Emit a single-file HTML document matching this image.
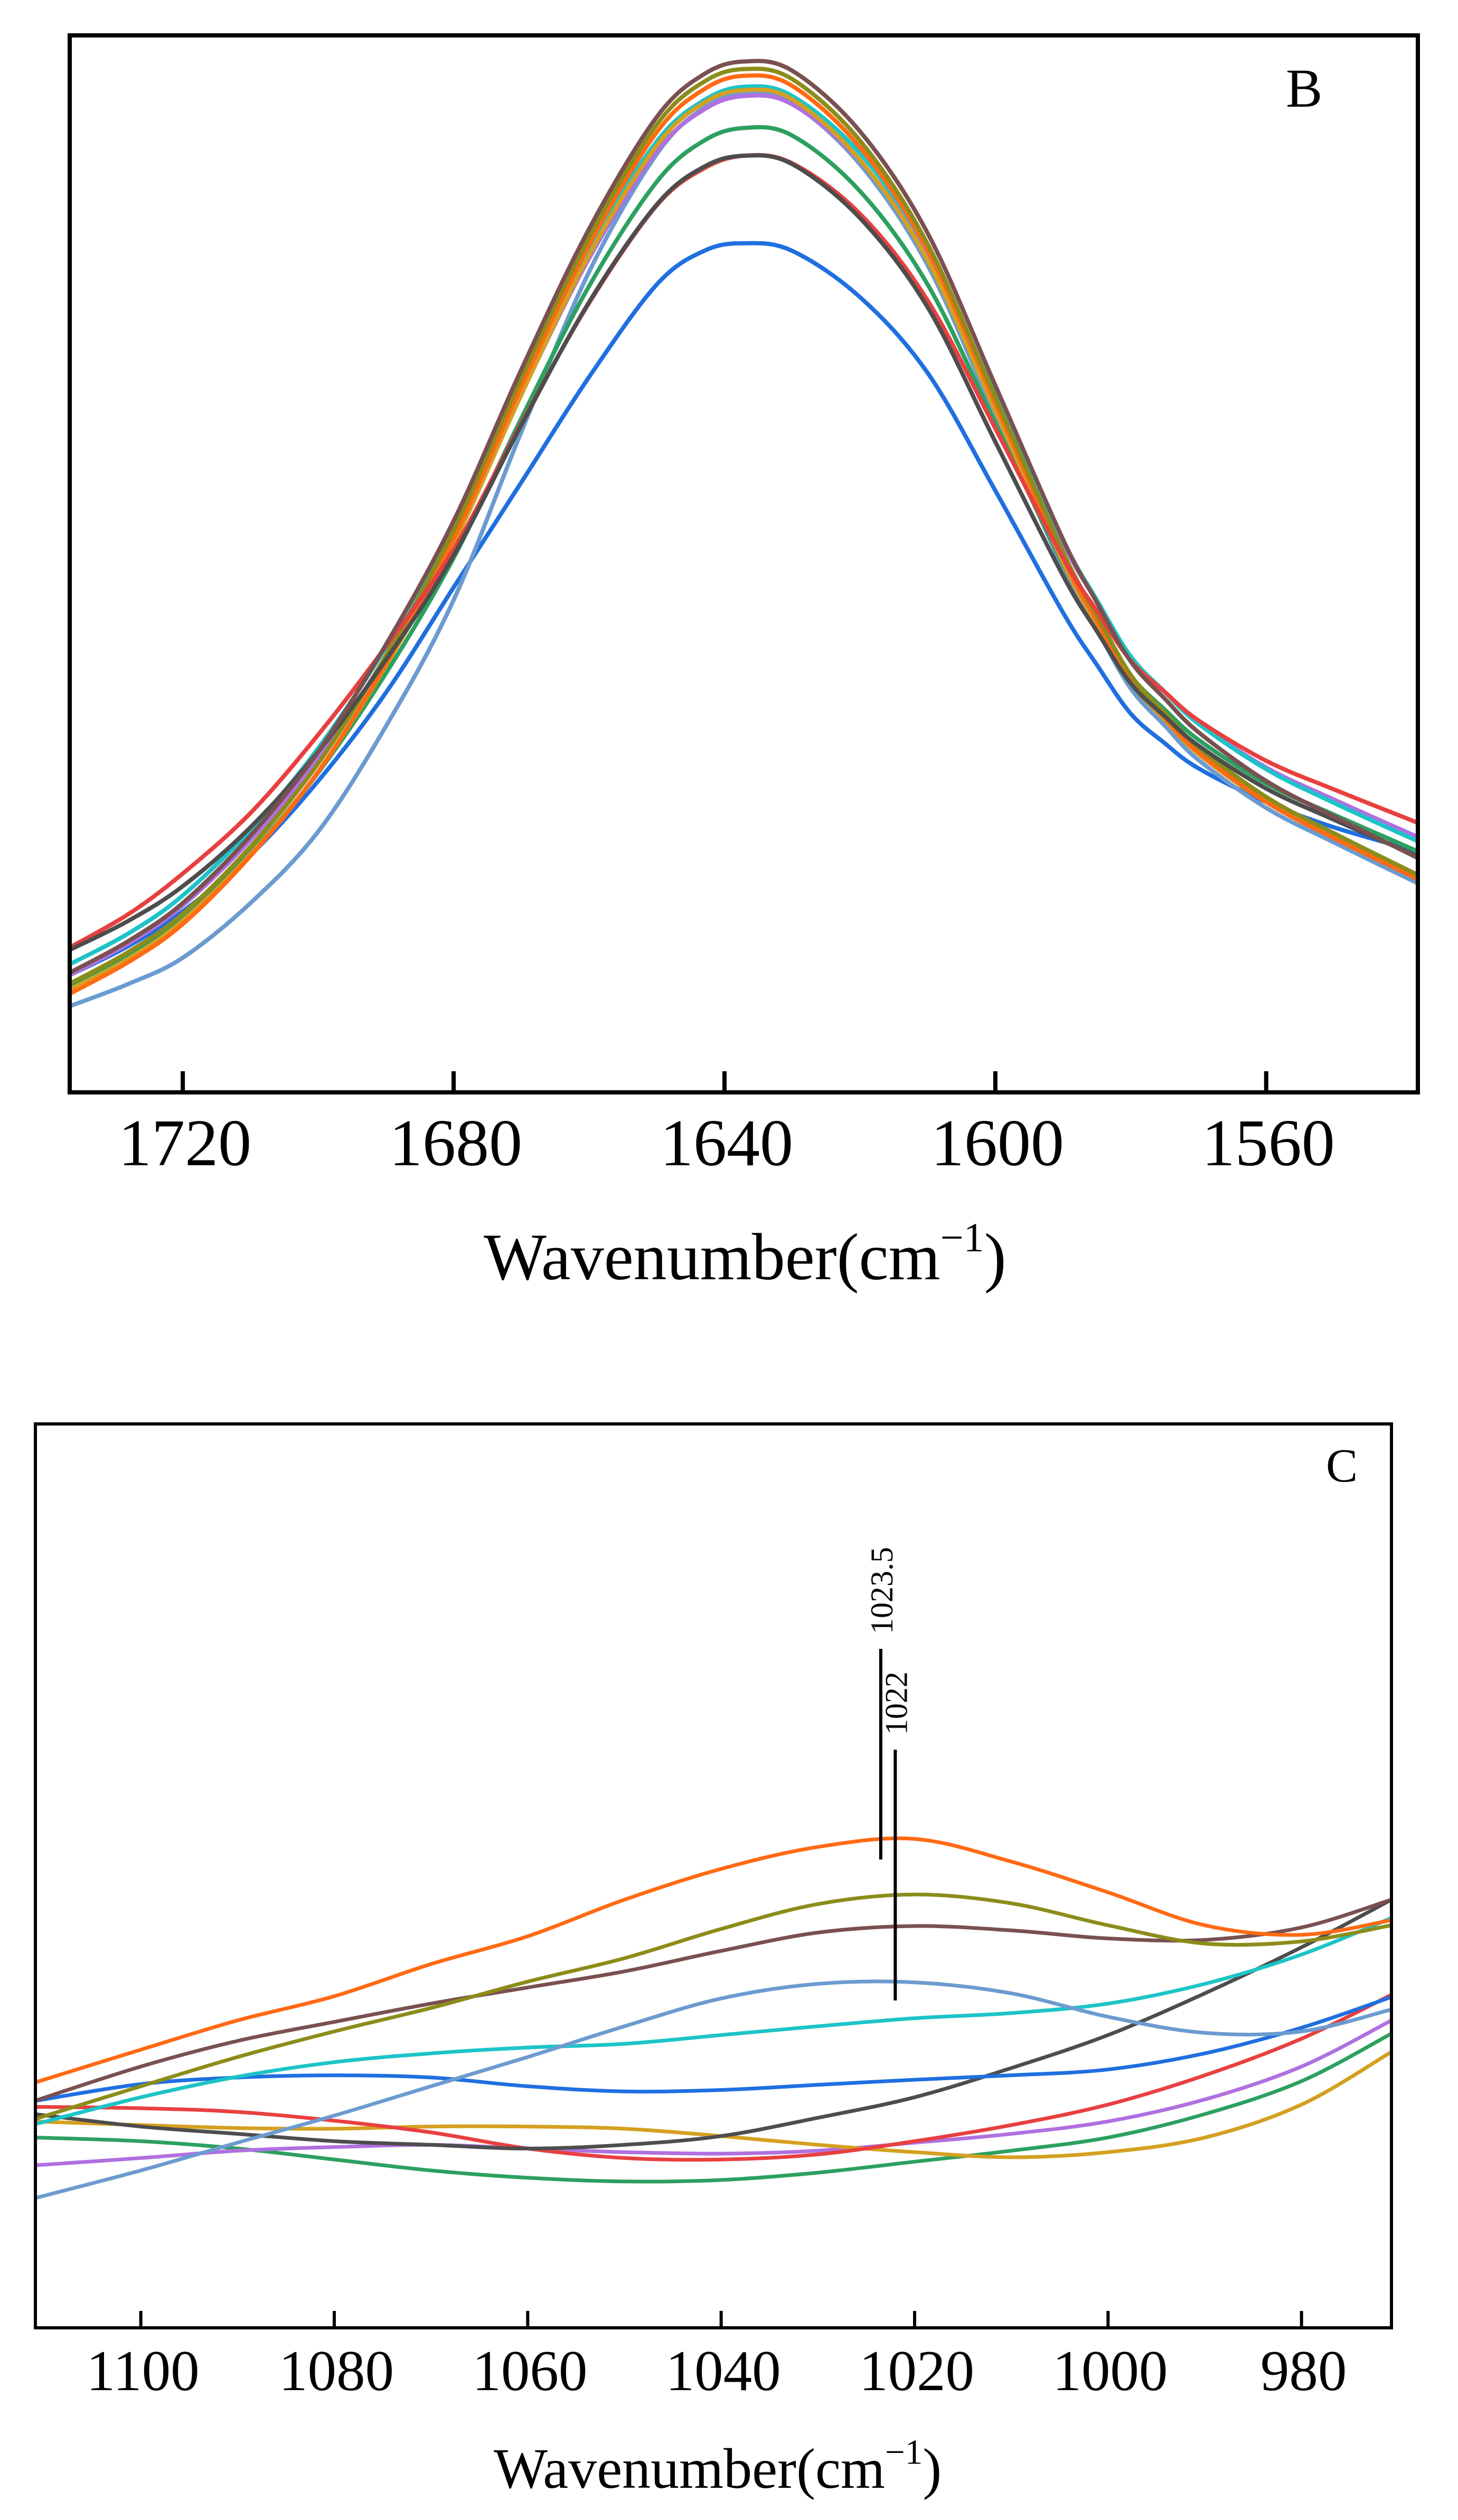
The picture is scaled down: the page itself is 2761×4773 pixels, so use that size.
<!DOCTYPE html>
<html><head><meta charset="utf-8"><style>
html,body{margin:0;padding:0;background:#fff}
svg{display:block}
text{font-family:"Liberation Serif","Times New Roman",serif;fill:#000}
</style></head>
<body>
<svg id="chart" width="2761" height="4773" viewBox="0 0 2761 4773" xmlns="http://www.w3.org/2000/svg">
  <g id="panelB"></g>
  <g id="panelC"></g>
</svg>
<script>
// ---------- Panel B data ----------
const bWavenumbers = [1736.5,1728,1720,1710,1700,1690,1680,1670,1660,1650,1643,1637,1630,1620,1610,1600,1590,1585,1580,1575,1570,1560,1550,1537.5];
const bTicks = [1720,1680,1640,1600,1560];
const bBrown  = [143,180,225,305,405,532,679,859,1026,1159,1210,1225,1214,1142,1021,840,657,582,512,468,428,370,328,278];
const bOlive  = [130,167,212,292,391,519,668,849,1016,1150,1201,1216,1204,1131,1008,826,642,567,496,451,410,351,308,258];
const bOrange = [118,155,200,281,381,509,658,839,1007,1141,1192,1208,1196,1123,1001,819,635,560,489,445,404,345,302,253];
const bGold   = [123,159,204,283,381,507,652,829,995,1125,1176,1191,1180,1108,989,810,630,556,487,443,402,345,304,255];
const bCyan   = [153,189,234,312,409,529,670,841,1003,1130,1179,1195,1184,1116,1001,829,656,585,518,476,438,384,344,298];
const bPurple = [140,177,222,300,397,518,659,830,991,1118,1168,1184,1174,1107,994,824,653,583,517,476,439,386,348,303];
const bSteel  = [103,129,160,225,310,435,585,785,975,1115,1170,1186,1175,1103,983,803,623,550,480,436,395,338,297,248];
const bGreen  = [128,164,209,285,380,498,635,801,958,1082,1131,1146,1137,1071,960,795,628,560,495,455,419,367,330,286];
const bGray   = [170,204,245,315,405,514,638,793,939,1055,1100,1113,1103,1039,933,773,614,548,486,447,412,361,324,280];
const bRed    = [173,212,260,332,425,530,645,795,938,1054,1098,1113,1104,1044,941,789,635,572,513,476,442,394,360,320];
const bBlue   = [140,174,215,282,370,475,600,725,850,960,1000,1009,1000,945,855,715,570,508,450,415,385,345,315,286];

// ---------- Panel C data ----------
const cWavenumbers = [1111,1100,1090,1080,1070,1060,1050,1040,1030,1020,1010,1000,990,980,970.7];
const cTicks = [1100,1080,1060,1040,1020,1000,980];
const cOrange = [335,380,420,453,497,535,585,627,657,668,637,595,550,537,557];
const cOlive  = [285,330,370,405,437,473,505,545,579,592,580,550,525,528,550];
const cBrown  = [310,357,392,418,443,465,487,515,540,549,543,532,530,547,585];
const cSteel  = [177,215,253,290,330,370,412,450,470,472,457,425,403,405,435];
const cCyan   = [278,315,343,363,375,383,388,400,412,423,430,443,470,510,560];
const cBlue   = [310,333,342,345,342,330,323,325,332,339,345,353,375,410,452];
const cGray   = [292,275,265,255,250,245,250,262,287,315,355,400,457,520,585];
const cRed    = [302,300,295,283,267,245,232,230,237,255,277,305,345,395,455];
const cGold   = [282,277,273,272,275,275,272,262,250,240,233,240,260,305,377];
const cPurple = [222,232,242,247,250,245,240,238,242,253,265,282,312,357,420];
const cGreen  = [260,255,245,230,215,205,200,202,212,227,242,260,292,337,402];
const cMarkers = [1023.5,1022];

const NS = "http://www.w3.org/2000/svg";
function mk(parent, tag, attrs){
  const e = document.createElementNS(NS, tag);
  for (const k in attrs) e.setAttribute(k, attrs[k]);
  parent.appendChild(e);
  return e;
}
function smoothPath(pts){
  let d = "M" + pts[0][0].toFixed(1) + "," + pts[0][1].toFixed(1);
  for (let i = 0; i < pts.length - 1; i++){
    const p0 = pts[Math.max(0,i-1)], p1 = pts[i], p2 = pts[i+1], p3 = pts[Math.min(pts.length-1,i+2)];
    const c1x = p1[0] + (p2[0]-p0[0])/6, c1y = p1[1] + (p2[1]-p0[1])/6;
    const c2x = p2[0] - (p3[0]-p1[0])/6, c2y = p2[1] - (p3[1]-p1[1])/6;
    d += " C" + c1x.toFixed(1)+","+c1y.toFixed(1)+" "+c2x.toFixed(1)+","+c2y.toFixed(1)+" "+p2[0].toFixed(1)+","+p2[1].toFixed(1);
  }
  return d;
}

function drawPanel(g, cfg){
  const xs = w => cfg.left + (cfg.wMax - w) / (cfg.wMax - cfg.wMin) * (cfg.right - cfg.left);
  const ys = v => cfg.bottom - v / cfg.vMax * (cfg.bottom - cfg.top);
  const clip = mk(g, "clipPath", {id: cfg.id + "-clip"});
  mk(clip, "rect", {x: cfg.left, y: cfg.top, width: cfg.right - cfg.left, height: cfg.bottom - cfg.top});
  const lines = mk(g, "g", {"clip-path": "url(#" + cfg.id + "-clip)"});
  
  
  cfg.series.forEach(s => {
    const pts = cfg.wn.map((w, i) => [xs(w), ys(s.values[i])]);
    const p = mk(lines, "path", {d: smoothPath(pts), fill: "none", stroke: s.color, "stroke-width": cfg.lw, "stroke-linejoin": "round"});
    
    
  });
  const frame = mk(g, "rect", {x: cfg.left, y: cfg.top, width: cfg.right - cfg.left, height: cfg.bottom - cfg.top, fill: "none", stroke: "#000", "stroke-width": cfg.fw});
  
  
  cfg.ticks.forEach(t => {
    const x = xs(t);
    const tk = mk(g, "line", {x1: x, x2: x, y1: cfg.bottom, y2: cfg.bottom - cfg.tickLen, stroke: "#000", "stroke-width": cfg.fw});
    
    
    const lb = mk(g, "text", {x: x + 4, y: cfg.tickBase, "font-size": cfg.tickFont, "text-anchor": "middle"});
    lb.textContent = String(t);
    
    
  });
  const tt = mk(g, "text", {x: cfg.titleX, y: cfg.titleBase, "font-size": cfg.titleFont});
  
  
  tt.appendChild(document.createTextNode("Wavenumber(cm"));
  const sup = mk(tt, "tspan", {"font-size": cfg.titleFont * 0.62, dy: -cfg.titleFont * 0.42});
  sup.textContent = "\u22121";
  const cl = mk(tt, "tspan", {dy: cfg.titleFont * 0.42});
  cl.textContent = ")";
  const pl = mk(g, "text", {x: cfg.letterX, y: cfg.letterBase, "font-size": cfg.letterFont});
  pl.textContent = cfg.letter;
  
  
  return {xs, ys};
}

drawPanel(document.getElementById("panelB"), {
  id: "b", left: 132, right: 2685, top: 67, bottom: 2069, wMax: 1736.7, wMin: 1537.6, vMax: 1256,
  wn: bWavenumbers, ticks: bTicks, lw: 8, fw: 8, tickLen: 40, tickFont: 126, tickBase: 2207,
  titleX: 916, titleBase: 2423, titleFont: 126, letter: "B", letterX: 2435, letterBase: 202, letterFont: 104,
  series: [
    {name:"blue", color:"#1f6fe0", values:bBlue},
    {name:"steel-blue", color:"#6b9bd0", values:bSteel},
    {name:"green", color:"#2ca060", values:bGreen},
    {name:"purple", color:"#b070e0", values:bPurple},
    {name:"cyan", color:"#1cc4c8", values:bCyan},
    {name:"gold", color:"#d4a020", values:bGold},
    {name:"orange", color:"#ff6a13", values:bOrange},
    {name:"olive", color:"#8c8c1a", values:bOlive},
    {name:"red", color:"#e84040", values:bRed},
    {name:"dark-gray", color:"#4d4d4d", values:bGray},
    {name:"brown", color:"#7a5050", values:bBrown}
  ]
});

const cAx = drawPanel(document.getElementById("panelC"), {
  id: "c", left: 67, right: 2635, top: 2697, bottom: 4409, wMax: 1110.9, wMin: 970.7, vMax: 1235,
  wn: cWavenumbers, ticks: cTicks, lw: 7, fw: 6, tickLen: 32, tickFont: 109, tickBase: 4527,
  titleX: 935, titleBase: 4712, titleFont: 108, letter: "C", letterX: 2511, letterBase: 2806, letterFont: 90,
  series: [
    {name:"green", color:"#2ca060", values:cGreen},
    {name:"purple", color:"#b070e0", values:cPurple},
    {name:"gold", color:"#d4a020", values:cGold},
    {name:"red", color:"#e84040", values:cRed},
    {name:"dark-gray", color:"#4d4d4d", values:cGray},
    {name:"blue", color:"#1f6fe0", values:cBlue},
    {name:"cyan", color:"#1cc4c8", values:cCyan},
    {name:"steel-blue", color:"#6b9bd0", values:cSteel},
    {name:"brown", color:"#7a5050", values:cBrown},
    {name:"olive", color:"#8c8c1a", values:cOlive},
    {name:"orange", color:"#ff6a13", values:cOrange}
  ]
});

const gC = document.getElementById("panelC");
const markerSpan = [[3123,3522],[3314,3789]];
cMarkers.forEach((m, i) => {
  const x = cAx.xs(m);
  const ln = mk(gC, "line", {x1: x, x2: x, y1: markerSpan[i][0], y2: markerSpan[i][1], stroke: "#000", "stroke-width": 6});
  
  
  const bx = x + 22, by = markerSpan[i][0] - 28;
  const tx = mk(gC, "text", {x: bx, y: by, "font-size": 60, transform: "rotate(-90 " + bx + " " + by + ")"});
  tx.textContent = String(m);
  
  
});
</script>
</body></html>
